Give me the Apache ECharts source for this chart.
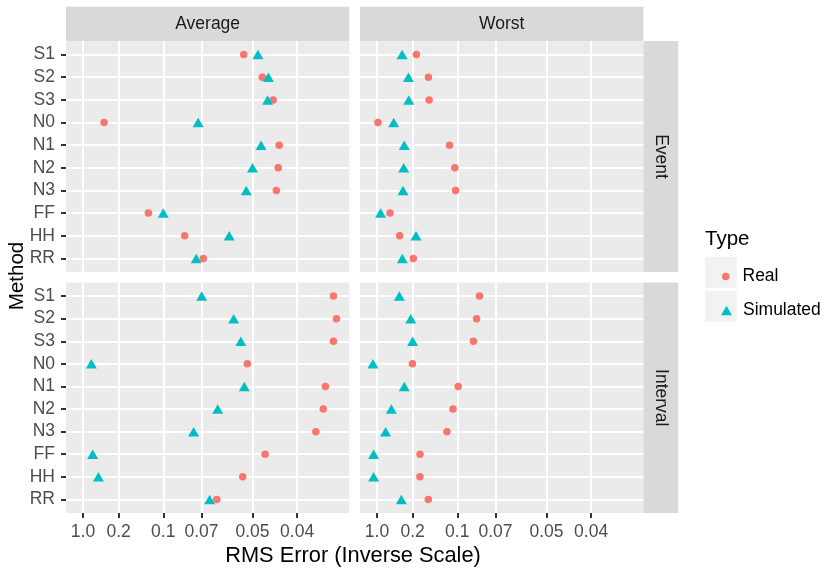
<!DOCTYPE html>
<html><head><meta charset="utf-8">
<script src="https://cdn.jsdelivr.net/npm/echarts@6/dist/echarts.min.js"></script>
<style>html,body{margin:0;padding:0;background:#fff}#c{width:827px;height:572px}</style>
</head><body><div id="c"></div>
<script>
// ---- data (RMS error values) ----
const methods = ['S1','S2','S3','N0','N1','N2','N3','FF','HH','RR'];
const tickValues = [1.0, 0.2, 0.1, 0.07, 0.05, 0.04];
const tickLabels = ['1.0','0.2','0.1','0.07','0.05','0.04'];
const colNames = ['Average','Worst'];
const rowNames = ['Event','Interval'];
const typeNames = ['Real','Simulated'];

const avgEventReal      = [0.0526,0.0474,0.0448,0.297,0.0435,0.0437,0.0441,0.120,0.0806,0.0690];
const avgEventSim       = [0.0485,0.0459,0.0461,0.0719,0.0477,0.0500,0.0518,0.100,0.0575,0.0730];
const worstEventReal    = [0.1845,0.1477,0.146,0.90,0.1095,0.1028,0.1019,0.407,0.282,0.197];
const worstEventSim     = [0.262,0.221,0.219,0.348,0.246,0.250,0.255,0.709,0.186,0.260];
const avgIntervalReal   = [0.0344,0.0340,0.0344,0.0515,0.0355,0.0358,0.0369,0.0467,0.0529,0.0625];
const avgIntervalSim    = [0.0699,0.0559,0.0535,0.515,0.0524,0.0621,0.0746,0.478,0.366,0.0658];
const worstIntervalReal = [0.080,0.0822,0.0847,0.201,0.099,0.105,0.113,0.1715,0.172,0.148];
const worstIntervalSim  = [0.285,0.209,0.200,1.82,0.246,0.383,0.508,1.61,1.61,0.268];

// ---- layout ----
const FONT = 'Liberation Sans, Arial, Helvetica, sans-serif';
const RED = '#F8766D', TEAL = '#00BFC4';
const SMALL = 17.5;
const colX = [66, 360], PW = 283.3;
const rowY = [41, 282.5], rowH = [231, 230.5];
const inv = v => 1 / v;
const tickPos = tickValues.map(inv);

const panels = [
  {c:0, r:0, real:avgEventReal, sim:avgEventSim},
  {c:1, r:0, real:worstEventReal, sim:worstEventSim},
  {c:0, r:1, real:avgIntervalReal, sim:avgIntervalSim},
  {c:1, r:1, real:worstIntervalReal, sim:worstIntervalSim}
];

const grid = [], xAxis = [], yAxis = [], series = [];
panels.forEach((p, i) => {
  grid.push({left: colX[p.c], top: rowY[p.r], width: PW, height: rowH[p.r],
    show: true, backgroundColor: '#EBEBEB', borderWidth: 0, containLabel: false});
  const bottom = p.r === 1, left = p.c === 0;
  xAxis.push({type:'value', gridIndex:i, position:'bottom', min:-0.9, max:30.85,
    axisLine:{show:false, onZero:false},
    axisTick:{show:bottom, customValues: tickPos, length:5, lineStyle:{color:'#333333', width:2}},
    axisLabel:{show:bottom, customValues: tickPos, margin:10, color:'#4D4D4D', fontSize:SMALL, fontFamily:FONT,
      formatter: v => { let k = 0, d = 1e9; tickPos.forEach((t,j)=>{ if (Math.abs(t-v)<d){d=Math.abs(t-v);k=j;} }); return tickLabels[k]; }},
    splitLine:{show:true, lineStyle:{color:'#FFFFFF', width:2}}
  });
  const idx = methods.map((m,k)=>k);
  yAxis.push({type:'value', gridIndex:i, position:'left', min:-0.6, max:methods.length - 0.4, inverse:true,
    axisLine:{show:false, onZero:false},
    axisTick:{show:left, customValues: idx, length:5, lineStyle:{color:'#333333', width:2}},
    axisLabel:{show:left, customValues: idx, margin:11, color:'#4D4D4D', fontSize:SMALL, fontFamily:FONT,
      formatter: v => methods[Math.round(v)]},
    splitLine:{show:true, lineStyle:{color:'#FFFFFF', width:2}}
  });
  series.push({type:'scatter', name:typeNames[0], xAxisIndex:i, yAxisIndex:i,
    symbol:'circle', symbolSize:7.5, itemStyle:{color:RED, opacity:1},
    data: p.real.map((v,k)=>[inv(v), k]), silent:true, z:3});
  series.push({type:'scatter', name:typeNames[1], xAxisIndex:i, yAxisIndex:i,
    symbol:'triangle', symbolSize:[11,9.5], itemStyle:{color:TEAL, opacity:1},
    data: p.sim.map((v,k)=>[inv(v), k]), silent:true, z:3});
});

const graphic = [];
// top strips
colNames.forEach((n, c) => {
  graphic.push({type:'rect', shape:{x:colX[c], y:6.7, width:PW, height:34.3}, style:{fill:'#D9D9D9'}, z:0, silent:true});
  graphic.push({type:'text', x:colX[c] + PW/2, y:24, style:{text:n, fill:'#1A1A1A', font:SMALL + 'px ' + FONT, align:'center', verticalAlign:'middle'}, z:1, silent:true});
});
// right strips
rowNames.forEach((n, r) => {
  graphic.push({type:'rect', shape:{x:colX[1]+PW, y:rowY[r], width:35, height:rowH[r]}, style:{fill:'#D9D9D9'}, z:0, silent:true});
  graphic.push({type:'text', x:colX[1]+PW+17.5, y:rowY[r]+rowH[r]/2, rotation:-Math.PI/2,
    style:{text:n, fill:'#1A1A1A', font:SMALL + 'px ' + FONT, align:'center', verticalAlign:'middle'}, z:1, silent:true});
});
// axis titles
graphic.push({type:'text', x:353, y:555.5, style:{text:'RMS Error (Inverse Scale)', fill:'#000', font:'21.8px ' + FONT, align:'center', verticalAlign:'middle'}, silent:true});
graphic.push({type:'text', x:17, y:276, rotation:Math.PI/2, style:{text:'Method', fill:'#000', font:'20.5px ' + FONT, align:'center', verticalAlign:'middle'}, silent:true});
// legend title + key backgrounds
graphic.push({type:'text', x:705, y:239, style:{text:'Type', fill:'#000', font:'20.5px ' + FONT, align:'left', verticalAlign:'middle'}, silent:true});
graphic.push({type:'rect', shape:{x:705, y:256.7, width:31.7, height:31.3}, style:{fill:'#F2F2F2'}, z:0, silent:true});
graphic.push({type:'rect', shape:{x:705, y:290.7, width:31.7, height:31.3}, style:{fill:'#F2F2F2'}, z:0, silent:true});

const legend = [
  {data:[{name:typeNames[0], icon:'circle'}], left:717, top:262.5, itemWidth:7.5, itemHeight:7.5, selectedMode:false, z:5,
   textStyle:{fontSize:SMALL, color:'#000', fontFamily:FONT, padding:[0,0,0,8]}},
  {data:[{name:typeNames[1], icon:'triangle'}], left:716, top:296.5, itemWidth:11, itemHeight:9.5, selectedMode:false, z:5,
   textStyle:{fontSize:SMALL, color:'#000', fontFamily:FONT, padding:[0,0,0,6]}}
];

const chart = echarts.init(document.getElementById('c'));
chart.setOption({animation:false, backgroundColor:'#FFFFFF', textStyle:{fontFamily:FONT},
  grid, xAxis, yAxis, series, graphic, legend});
</script></body></html>
